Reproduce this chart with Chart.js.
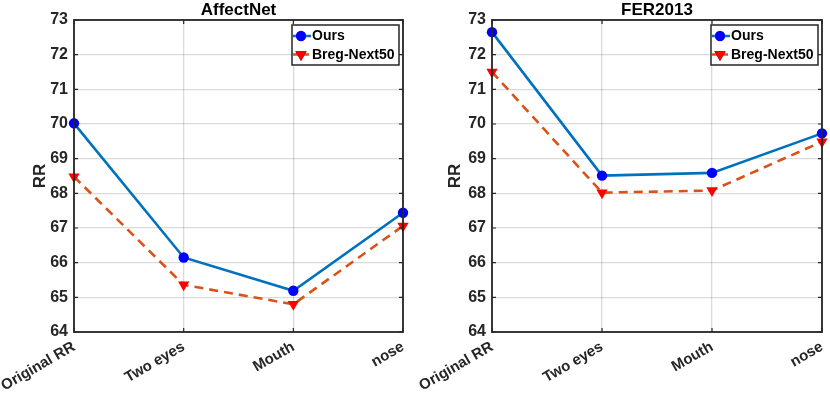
<!DOCTYPE html>
<html><head><meta charset="utf-8">
<script src="https://cdn.jsdelivr.net/npm/chart.js@4"></script>
<style>
html,body{margin:0;padding:0;background:#fff;}
#wrap{position:relative;width:830px;height:398px;}
.c{position:absolute;top:0;width:415px;height:398px;}
</style></head>
<body><div id="wrap">
<div class="c" style="left:0"><canvas id="c1"></canvas></div>
<div class="c" style="left:415px"><canvas id="c2"></canvas></div>
</div>
<script>
const categories = ['Original RR', 'Two eyes', 'Mouth', 'nose'];
const seriesNames = ['Ours', 'Breg-Next50'];
const affectOurs = [70.02, 66.15, 65.19, 67.44];
const affectBreg = [68.48, 65.36, 64.80, 67.06];
const ferOurs = [72.65, 68.51, 68.59, 69.73];
const ferBreg = [71.50, 68.02, 68.08, 69.49];
const yMin = 64, yMax = 73, yStep = 1;
const titles = ['AffectNet', 'FER2013'];
const yTitle = 'RR';

const FONT = "'Liberation Sans', Arial, Helvetica, sans-serif";
const AX = '#262626';

const boxPlugin = {
  id: 'boxPlugin',
  afterDraw(chart, args, opts) {
    const ctx = chart.ctx, a = chart.chartArea;
    ctx.save();
    // inward ticks
    ctx.strokeStyle = AX; ctx.lineWidth = 1.2;
    const xs = chart.scales.x, ys = chart.scales.y;
    ctx.beginPath();
    ys.ticks.forEach((t, i) => {
      const y = ys.getPixelForTick(i);
      ctx.moveTo(a.left, y); ctx.lineTo(a.left + 4, y);
      ctx.moveTo(a.right, y); ctx.lineTo(a.right - 4, y);
    });
    xs.ticks.forEach((t, i) => {
      const x = xs.getPixelForTick(i);
      ctx.moveTo(x, a.bottom); ctx.lineTo(x, a.bottom - 4);
      ctx.moveTo(x, a.top); ctx.lineTo(x, a.top + 4);
    });
    ctx.stroke();
    // box
    ctx.lineWidth = 1.8;
    ctx.strokeRect(a.left, a.top, a.right - a.left, a.bottom - a.top);
    // title
    ctx.fillStyle = '#000';
    ctx.font = 'bold 17px ' + FONT;
    ctx.textAlign = 'center'; ctx.textBaseline = 'middle';
    ctx.fillText(opts.title, (a.left + a.right) / 2, 10);
    // legend
    const bw = 107, bh = 40;
    const bx = a.right - 4 - bw, by = a.top + 5;
    ctx.fillStyle = '#fff';
    ctx.fillRect(bx, by, bw, bh);
    ctx.lineWidth = 1.5; ctx.strokeStyle = AX;
    ctx.strokeRect(bx, by, bw, bh);
    ctx.font = 'bold 14px ' + FONT;
    ctx.textAlign = 'left'; ctx.textBaseline = 'middle';
    chart.data.datasets.forEach((ds, i) => {
      const cy = by + 11 + i * 18.5;
      ctx.save();
      ctx.strokeStyle = ds.borderColor; ctx.lineWidth = 2.5;
      ctx.setLineDash(ds.borderDash ? [6, 4] : []);
      ctx.beginPath(); ctx.moveTo(bx + 1, cy); ctx.lineTo(bx + 19, cy); ctx.stroke();
      ctx.restore();
      Chart.helpers.drawPoint(ctx, {pointStyle: ds.pointStyle, rotation: ds.pointRotation || 0, radius: ds.pointRadius, borderWidth: 0}, bx + 9, cy);
      ctx.fillStyle = ds.pointBackgroundColor;
      ctx.fill();
      ctx.fillStyle = '#000';
      ctx.fillText(ds.label, bx + 20, cy + 0.5);
    });
    ctx.restore();
  }
};

function makeChart(id, title, ours, breg, yWidth, rightPad) {
  new Chart(document.getElementById(id), {
    type: 'line',
    data: {
      labels: categories,
      datasets: [
        {label: seriesNames[0], data: ours, borderColor: '#0072BD', borderWidth: 2.6,
         pointStyle: 'circle', pointRadius: 5.2, pointBackgroundColor: '#0000FF', pointBorderColor: '#0000FF', pointBorderWidth: 0,
         tension: 0, clip: false},
        {label: seriesNames[1], data: breg, borderColor: '#D95319', borderWidth: 2.6, borderDash: [9, 6],
         pointStyle: 'triangle', pointRotation: 180, pointRadius: 6.5, pointBackgroundColor: '#FF0000', pointBorderColor: '#FF0000', pointBorderWidth: 0,
         tension: 0, clip: false}
      ]
    },
    options: {
      responsive: true, maintainAspectRatio: false, animation: false,
      layout: {padding: {top: 20, right: rightPad, left: 0, bottom: 0}},
      plugins: {legend: {display: false}, tooltip: {enabled: false}, boxPlugin: {title: title}},
      scales: {
        x: {
          type: 'category', offset: false,
          grid: {color: 'rgba(38,38,38,0.17)', lineWidth: 1.3, drawTicks: false},
          border: {display: false},
          ticks: {color: AX, font: {family: FONT, size: 15, weight: 'bold'}, minRotation: 30, maxRotation: 30, padding: 6, autoSkip: false},
          afterFit(s) { s.paddingLeft = 0; s.paddingRight = 0; s.height = 66; }
        },
        y: {
          min: yMin, max: yMax,
          grid: {color: 'rgba(38,38,38,0.17)', lineWidth: 1.3, drawTicks: false},
          border: {display: false},
          ticks: {stepSize: yStep, color: AX, font: {family: FONT, size: 16, weight: 'bold'}, padding: 6},
          title: {display: true, text: yTitle, color: AX, font: {family: FONT, size: 17, weight: 'bold'}, padding: {top: 30, bottom: 0}},
          afterFit(s) { s.width = yWidth; s.paddingTop = 0; s.paddingBottom = 0; }
        }
      }
    },
    plugins: [boxPlugin]
  });
}

makeChart('c1', titles[0], affectOurs, affectBreg, 74, 12);
makeChart('c2', titles[1], ferOurs, ferBreg, 77, 8);
</script>
</body></html>
